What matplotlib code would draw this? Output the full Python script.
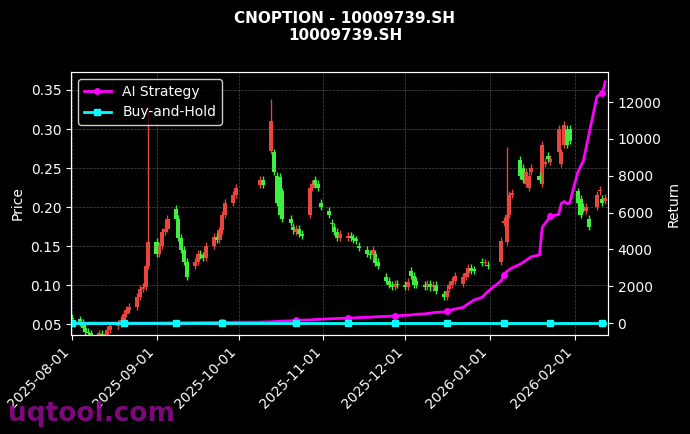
import numpy as np
import pandas as pd
import matplotlib
matplotlib.use("Agg")
import matplotlib.pyplot as plt
import matplotlib.dates as mdates

# trading days
aug = ["01","04","05","06","07","08","11","12","13","14","15","18","19","20","21","22","25","26","27","28","29"]
sep = ["01","02","03","04","05","08","09","10","11","12","15","16","17","18","19","22","23","24","25","26","29","30"]
oct_ = ["09","10","13","14","15","16","17","20","21","22","23","24","27","28","29","30","31"]
nov = ["03","04","05","06","07","10","11","12","13","14","17","18","19","20","21","24","25","26","27","28"]
dec = ["01","02","03","04","05","08","09","10","11","12","15","16","17","18","19","22","23","24","25","26","29","30","31"]
jan = ["05","06","07","08","09","12","13","14","15","16","19","20","21","22","23","26","27","28","29","30"]
feb = ["02","03","04","05","06","09","10","11","12"]
dates = pd.to_datetime(["2025-08-" + d for d in aug] + ["2025-09-" + d for d in sep] +
                       ["2025-10-" + d for d in oct_] + ["2025-11-" + d for d in nov] +
                       ["2025-12-" + d for d in dec] + ["2026-01-" + d for d in jan] +
                       ["2026-02-" + d for d in feb])

opens = [.058,.056,.052,.045,.040,.038,.036,.037,.035,.036,.042,.048,.050,.055,.063,.068,.072,.085,.095,.098,.125,
         .155,.140,.150,.168,.172,.198,.185,.160,.145,.130,.125,.130,.140,.138,.135,.150,.162,.158,.170,.190,.205,.215,
         .228,.235,.272,.270,.240,.238,.220,.185,.175,.168,.172,.165,.190,.225,.235,.230,.205,
         .195,.180,.175,.168,.160,.160,.163,.160,.158,.150,.145,.140,.138,.140,.130,.110,.105,.100,.098,.102,
         .100,.098,.118,.112,.105,.100,.098,.102,.097,.100,.088,.085,.095,.100,.105,.102,.110,.115,.122,.120,.130,.128,.126,
         .130,.180,.155,.190,.215,.260,.250,.230,.225,.245,.240,.230,.255,.265,.258,.270,.255,.280,.300,.300,
         .220,.210,.200,.195,.185,.200,.220,.210,.208]
closes = [.056,.052,.045,.040,.038,.036,.037,.035,.036,.042,.048,.050,.055,.063,.068,.072,.085,.095,.098,.125,.155,
          .140,.150,.168,.172,.185,.185,.160,.145,.130,.110,.130,.140,.138,.135,.150,.162,.158,.170,.190,.205,.215,.225,
          .235,.228,.310,.245,.205,.190,.185,.180,.170,.172,.165,.163,.225,.230,.228,.225,.200,
          .190,.178,.168,.160,.165,.163,.160,.158,.157,.148,.140,.138,.145,.128,.125,.105,.100,.098,.102,.100,
          .098,.104,.112,.100,.100,.098,.102,.097,.100,.092,.085,.093,.100,.105,.112,.110,.115,.122,.118,.118,.128,.128,.124,
          .156,.182,.190,.215,.218,.240,.235,.245,.240,.250,.235,.280,.258,.262,.262,.300,.270,.305,.280,.285,
          .205,.190,.198,.200,.175,.215,.222,.205,.212]
# notable wicks (others get a short default wick)
high_spikes = {"2025-08-29": 0.33, "2025-10-13": 0.338, "2026-01-07": 0.277}

strategy = [0]*21 + \
    [5,8,10,12,14,15,16,18,20,22,24,25,26,28,30,32,34,36,38,40,42,45] + \
    [50,60,70,80,90,100,110,120,130,140,150,160,170,180,190,200,210] + \
    [230,240,245,250,255,260,270,280,290,300,310,320,330,340,350,360,370,380,390,400] + \
    [420,430,440,460,480,500,520,540,560,580,600,640,680,720,760,850,950,1050,1150,1250,1400,1550,1700] + \
    [2300,2600,2800,2900,3000,3200,3300,3400,3500,3600,3700,5200,5400,5600,5800,5900,6500,6600,6500,6500] + \
    [8200,8500,8800,9500,10200,12300,12400,12500,13100]
buy_hold = [0]*len(dates)
assert len(opens) == len(closes) == len(dates) == len(strategy)

plt.style.use("dark_background")
fig = plt.figure(figsize=(6.9, 4.34), dpi=100)
ax = fig.add_axes([0.103, 0.228, 0.778, 0.606])
ax.set_facecolor("black")

x = mdates.date2num(dates)
for xi, d, o, c in zip(x, dates, opens, closes):
    col = "#e8453c" if c >= o else "#3ef03e"
    hi = high_spikes.get(d.strftime("%Y-%m-%d"), max(o, c) + 0.005)
    lo = min(o, c) - 0.004
    ax.vlines(xi, lo, hi, color=col, linewidth=1)
    ax.bar(xi, max(abs(c - o), 0.002), bottom=min(o, c), width=1.5, color=col)

ax.set_ylim(0.036, 0.373)
ax.set_xlim(mdates.date2num(pd.Timestamp("2025-07-31 18:00")), mdates.date2num(pd.Timestamp("2026-02-13")))
ax.set_ylabel("Price")
ax.grid(True, color="gray", linestyle="--", linewidth=0.5, alpha=0.6)
ax.xaxis.set_major_locator(mdates.MonthLocator())
ax.xaxis.set_major_formatter(mdates.DateFormatter("%Y-%m-%d"))
plt.setp(ax.get_xticklabels(), rotation=45, ha="right")

ax2 = ax.twinx()
ax2.plot(dates, strategy, color="#ff00ff", linewidth=2, marker="o", markersize=4, markevery=13, label="AI Strategy")
ax2.plot(dates, buy_hold, color="#00ffff", linewidth=2, marker="s", markersize=4, markevery=13, label="Buy-and-Hold")
ax2.set_ylim(-650, 13630)
ax2.set_ylabel("Return")
for sp in list(ax.spines.values()) + list(ax2.spines.values()):
    sp.set_color("white")
ax2.legend(loc="upper left", facecolor="black", edgecolor="white")

fig.suptitle("CNOPTION - 10009739.SH\n10009739.SH", fontweight="bold", fontsize=11, y=0.975)
fig.text(0.012, 0.03, "uqtool.com", color="#8b0a8b", fontsize=19, fontweight="bold", alpha=0.9)

fig.savefig("out.png", dpi=100, facecolor="black")
